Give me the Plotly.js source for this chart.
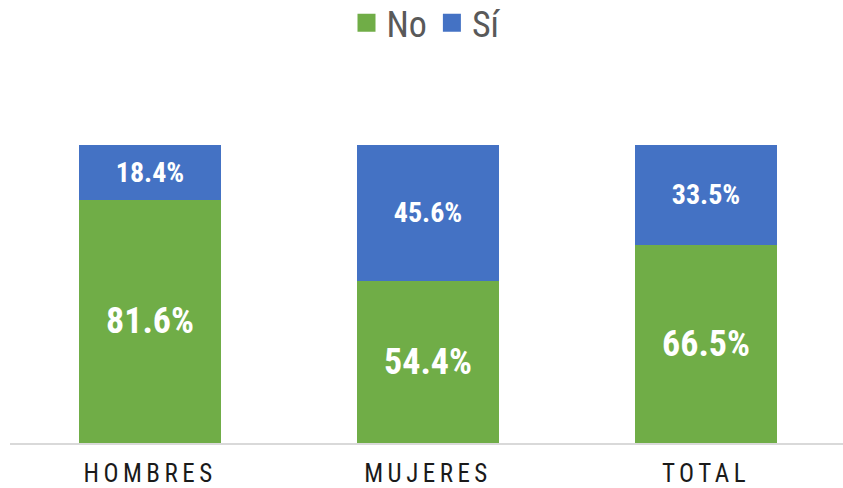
<!DOCTYPE html>
<html>
<head>
<meta charset="utf-8">
<script src="https://cdn.plot.ly/plotly-3.0.1.min.js"></script>
<style>
  html, body { margin: 0; padding: 0; background: #fff; }
  #chart { width: 843px; height: 488px; }
  .xtick text { letter-spacing: 4.5px; }
  .legendpoints { transform-box: fill-box; transform-origin: center; transform: scale(1.5); }
</style>
</head>
<body>
<div id="chart"></div>
<script>
const categories = ["HOMBRES", "MUJERES", "TOTAL"];
const noValues = [81.6, 54.4, 66.5];
const siValues = [18.4, 45.6, 33.5];
const seriesNames = ["No", "Sí"];

const narrow = '"Liberation Sans Narrow", "Arial Narrow", "Roboto Condensed", "Liberation Sans", Arial, sans-serif';

const traces = [
  {
    type: 'bar', name: seriesNames[0], x: categories, y: noValues,
    marker: { color: '#70AD47' },
    texttemplate: '%{y:.1f}%', textposition: 'inside', insidetextanchor: 'middle',
    constraintext: 'none',
    textfont: { family: narrow, size: 36, color: '#ffffff', weight: 'bold' },
    hoverinfo: 'skip'
  },
  {
    type: 'bar', name: seriesNames[1], x: categories, y: siValues,
    marker: { color: '#4472C4' },
    texttemplate: '%{y:.1f}%', textposition: 'inside', insidetextanchor: 'middle',
    constraintext: 'none',
    textfont: { family: narrow, size: 28, color: '#ffffff', weight: 'bold' },
    hoverinfo: 'skip'
  }
];

const layout = {
  width: 843, height: 488,
  margin: { l: 10, r: 0, t: 145, b: 45, pad: 0, autoexpand: false },
  paper_bgcolor: '#ffffff', plot_bgcolor: '#ffffff',
  barmode: 'stack',
  bargap: 0.489,
  showlegend: true,
  legend: {
    orientation: 'h', x: 0.5, xanchor: 'center', y: 1.41, yanchor: 'middle',
    yref: 'paper',
    traceorder: 'normal',
    font: { family: narrow, size: 36, color: '#595959' },
    itemclick: false, itemdoubleclick: false
  },
  xaxis: {
    type: 'category',
    range: [-0.5036, 2.4928],
    showline: true, linecolor: '#d9d9d9', linewidth: 2,
    showgrid: false, zeroline: false, ticks: '',
    ticklabelstandoff: 7,
    tickfont: { family: narrow, size: 25, color: '#1a1a1a' },
    fixedrange: true
  },
  yaxis: {
    range: [0, 100], visible: false, showgrid: false, zeroline: false, fixedrange: true
  }
};

Plotly.newPlot('chart', traces, layout, { displayModeBar: false, staticPlot: true });
</script>
</body>
</html>
